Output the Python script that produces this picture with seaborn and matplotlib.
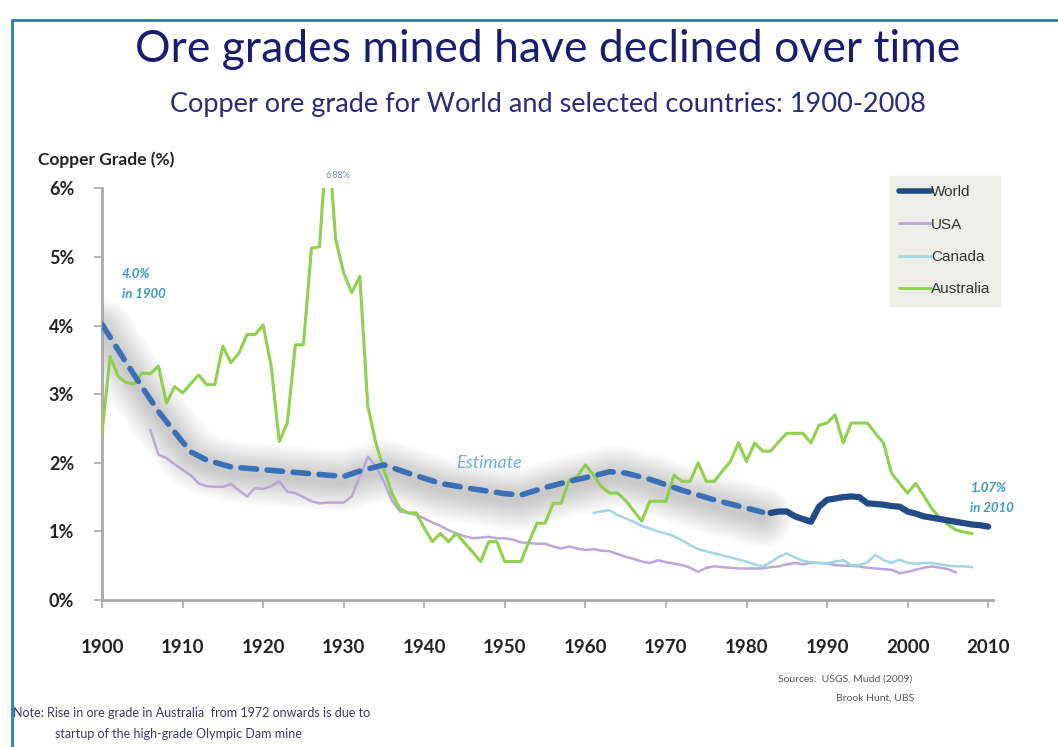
import pandas as pd
import seaborn as sns
import matplotlib.pyplot as plt
from matplotlib.lines import Line2D

sns.set_theme(style='white')
plt.rcParams['font.family'] = ['Lato', 'DejaVu Sans']

# --- data (copper ore grade, %) ---
aus_years = list(range(1900, 2009))
aus_grade = [2.44, 3.55, 3.26, 3.17, 3.15, 3.31, 3.30, 3.41, 2.87, 3.11,
             3.02, 3.15, 3.28, 3.14, 3.14, 3.70, 3.46, 3.60, 3.87, 3.87,
             4.01, 3.41, 2.31, 2.58, 3.72, 3.72, 5.13, 5.15, 6.88, 5.26,
             4.77, 4.48, 4.72, 2.82, 2.29, 1.90, 1.55, 1.33, 1.27, 1.27,
             1.05, 0.85, 0.97, 0.85, 0.97, 0.83, 0.70, 0.56, 0.85, 0.85,
             0.56, 0.56, 0.56, 0.85, 1.12, 1.12, 1.41, 1.41, 1.75, 1.80,
             1.97, 1.82, 1.65, 1.56, 1.56, 1.45, 1.30, 1.15, 1.44, 1.44,
             1.44, 1.82, 1.73, 1.73, 2.00, 1.73, 1.73, 1.88, 2.02, 2.29,
             2.02, 2.29, 2.17, 2.17, 2.31, 2.43, 2.43, 2.43, 2.29, 2.55,
             2.58, 2.70, 2.29, 2.58, 2.58, 2.58, 2.43, 2.29, 1.85, 1.70,
             1.56, 1.70, 1.52, 1.33, 1.20, 1.10, 1.02, 0.99, 0.97]

usa_years = list(range(1906, 2007))
usa_grade = [2.48, 2.12, 2.07, 1.98, 1.90, 1.82, 1.70, 1.66, 1.65, 1.65,
             1.69, 1.60, 1.51, 1.63, 1.62, 1.66, 1.73, 1.58, 1.56, 1.50,
             1.44, 1.41, 1.42, 1.42, 1.42, 1.51, 1.80, 2.09, 1.95, 1.72,
             1.45, 1.29, 1.27, 1.24, 1.19, 1.13, 1.08, 1.02, 0.97, 0.93,
             0.90, 0.91, 0.92, 0.90, 0.90, 0.88, 0.84, 0.83, 0.82, 0.82,
             0.78, 0.75, 0.78, 0.75, 0.73, 0.74, 0.72, 0.71, 0.67, 0.63,
             0.60, 0.56, 0.54, 0.58, 0.55, 0.53, 0.51, 0.47, 0.41, 0.47,
             0.49, 0.48, 0.47, 0.46, 0.46, 0.46, 0.46, 0.48, 0.49, 0.52,
             0.54, 0.52, 0.54, 0.54, 0.53, 0.51, 0.50, 0.50, 0.49, 0.47,
             0.46, 0.45, 0.44, 0.39, 0.41, 0.44, 0.47, 0.49, 0.47, 0.45,
             0.40]

can_years = list(range(1961, 2009))
can_grade = [1.27, 1.29, 1.31, 1.24, 1.19, 1.14, 1.08, 1.04, 1.00, 0.97,
             0.93, 0.87, 0.80, 0.74, 0.71, 0.68, 0.65, 0.62, 0.59, 0.56,
             0.52, 0.49, 0.55, 0.63, 0.68, 0.62, 0.57, 0.55, 0.54, 0.54,
             0.56, 0.58, 0.51, 0.51, 0.55, 0.66, 0.58, 0.54, 0.59, 0.54,
             0.53, 0.54, 0.54, 0.52, 0.50, 0.49, 0.49, 0.48]

# world estimate (dashed) and world actual (solid)
est_years = [1900, 1903, 1905, 1907, 1909, 1911, 1913, 1916, 1920, 1925,
             1930, 1932, 1935, 1938, 1942, 1946, 1950, 1952, 1955, 1958,
             1961, 1963, 1965, 1968, 1972, 1976, 1980, 1982]
est_grade = [4.02, 3.46, 3.10, 2.75, 2.45, 2.16, 2.04, 1.94, 1.90, 1.85,
             1.80, 1.88, 1.97, 1.85, 1.70, 1.62, 1.55, 1.53, 1.64, 1.73,
             1.81, 1.87, 1.85, 1.76, 1.60, 1.46, 1.34, 1.28]

world_years = list(range(1983, 2011))
world_grade = [1.27, 1.29, 1.29, 1.22, 1.18, 1.14, 1.36, 1.46, 1.48, 1.50,
               1.51, 1.50, 1.41, 1.40, 1.39, 1.37, 1.36, 1.29, 1.26, 1.22,
               1.20, 1.18, 1.16, 1.14, 1.12, 1.10, 1.09, 1.07]

colors = {'World': '#234b85', 'USA': '#b9a8d8', 'Canada': '#a3d6e3',
          'Australia': '#8fd04e'}
est_color = '#3a70b8'
note_color = '#3b9ab8'

fig = plt.figure(figsize=(10.58, 7.47), dpi=100)
ax = fig.add_axes([0.0964, 0.1968, 0.8422, 0.5509])

# soft shadow behind the estimate line (stacked translucent strokes)
for w in range(44, 4, -3):
    ax.plot(est_years, [g - 0.07 for g in est_grade],
            color='#3a3a3a', lw=w, alpha=0.018, solid_capstyle='round', zorder=1)

sns.lineplot(x=usa_years, y=usa_grade, ax=ax, color=colors['USA'], lw=1.8, zorder=2)
sns.lineplot(x=can_years, y=can_grade, ax=ax, color=colors['Canada'], lw=1.8, zorder=2)
sns.lineplot(x=aus_years, y=aus_grade, ax=ax, color=colors['Australia'], lw=2.2, zorder=3)
sns.lineplot(x=est_years, y=est_grade, ax=ax, color=est_color, lw=4, zorder=4)
ax.lines[-1].set_dashes((2.8, 1.9))
ax.lines[-1].set_dash_capstyle('round')
sns.lineplot(x=world_years, y=world_grade, ax=ax, color=colors['World'], lw=4.5, zorder=5)

ax.set_xlim(1900, 2010.6)
ax.set_ylim(0, 6)
ax.set_xticks(range(1900, 2011, 10))
ax.set_yticks(range(0, 7))
ax.set_yticklabels([f'{i}%' for i in range(0, 7)])
for s in ['top', 'right']:
    ax.spines[s].set_visible(False)
for s in ['left', 'bottom']:
    ax.spines[s].set_color('#a8a8a8')
    ax.spines[s].set_linewidth(2)
ax.tick_params(axis='both', which='major', length=6, width=1.2, color='#a8a8a8',
               direction='out', bottom=True, left=True)
ax.tick_params(axis='y', pad=14, labelsize=13, labelcolor='#222222')
ax.tick_params(axis='x', pad=22, labelsize=13.5, labelcolor='#222222')
for lab in ax.get_xticklabels() + ax.get_yticklabels():
    lab.set_fontweight('bold')
ax.set_xlabel('')
ax.set_ylabel('')
ax.set_facecolor('white')

# legend
handles = [Line2D([], [], color=colors['World'], lw=4),
           Line2D([], [], color=colors['USA'], lw=2),
           Line2D([], [], color=colors['Canada'], lw=2),
           Line2D([], [], color=colors['Australia'], lw=2)]
leg = fig.legend(handles, list(colors.keys()), loc='upper right',
                 bbox_to_anchor=(0.945, 0.764), borderaxespad=0,
                 frameon=True, fancybox=False,
                 handlelength=2.1, handletextpad=0.0, labelspacing=1.2,
                 borderpad=0.6, prop={'family': ['Liberation Sans Narrow', 'Liberation Sans'], 'size': 11})
leg.get_frame().set_facecolor('#ecebe4')
leg.get_frame().set_edgecolor('#ecebe4')
for t in leg.get_texts():
    t.set_color('#333333')

# annotations
ax.text(1902.5, 4.6, '4.0%\nin 1900', color=note_color, fontsize=9.5,
        fontweight='bold', style='italic', linespacing=1.8, va='center')
ax.text(1927.8, 6.13, '6.88%', color='#7a88b0', fontsize=6.5, va='bottom')
ax.text(1944.0, 2.0, 'Estimate', color='#6fb2c8', fontsize=13,
        style='italic', va='center')
ax.text(2007.8, 1.48, '1.07%\nin 2010', color=note_color, fontsize=9.5,
        fontweight='bold', style='italic', linespacing=1.8, va='center',
        clip_on=False)

# titles and notes
fig.text(0.518, 0.934, 'Ore grades mined have declined over time',
         ha='center', va='center', fontsize=32, color='#1c1c6e')
fig.text(0.518, 0.860, 'Copper ore grade for World and selected countries: 1900-2008',
         ha='center', va='center', fontsize=19.5, color='#2a2a78')
fig.text(0.036, 0.786, 'Copper Grade (%)', ha='left', va='center',
         fontsize=12.5, fontweight='bold', color='#222222')
fig.text(0.735, 0.091, 'Sources:  USGS, Mudd (2009)', fontsize=7.5,
         color='#555555', va='center')
fig.text(0.790, 0.066, 'Brook Hunt, UBS', fontsize=7.5, color='#555555', va='center')
fig.text(0.012, 0.046, 'Note: Rise in ore grade in Australia  from 1972 onwards is due to',
         fontsize=9, color='#3a3a5a', va='center')
fig.text(0.052, 0.017, 'startup of the high-grade Olympic Dam mine',
         fontsize=9, color='#3a3a5a', va='center')

# blue frame around the slide
fig.add_artist(Line2D([0.0115, 0.0115], [0.0, 0.973], color='#2f78c8', lw=2))
fig.add_artist(Line2D([0.0115, 1.0], [0.973, 0.973], color='#2f78c8', lw=2))

fig.savefig('out.png', dpi=100)
